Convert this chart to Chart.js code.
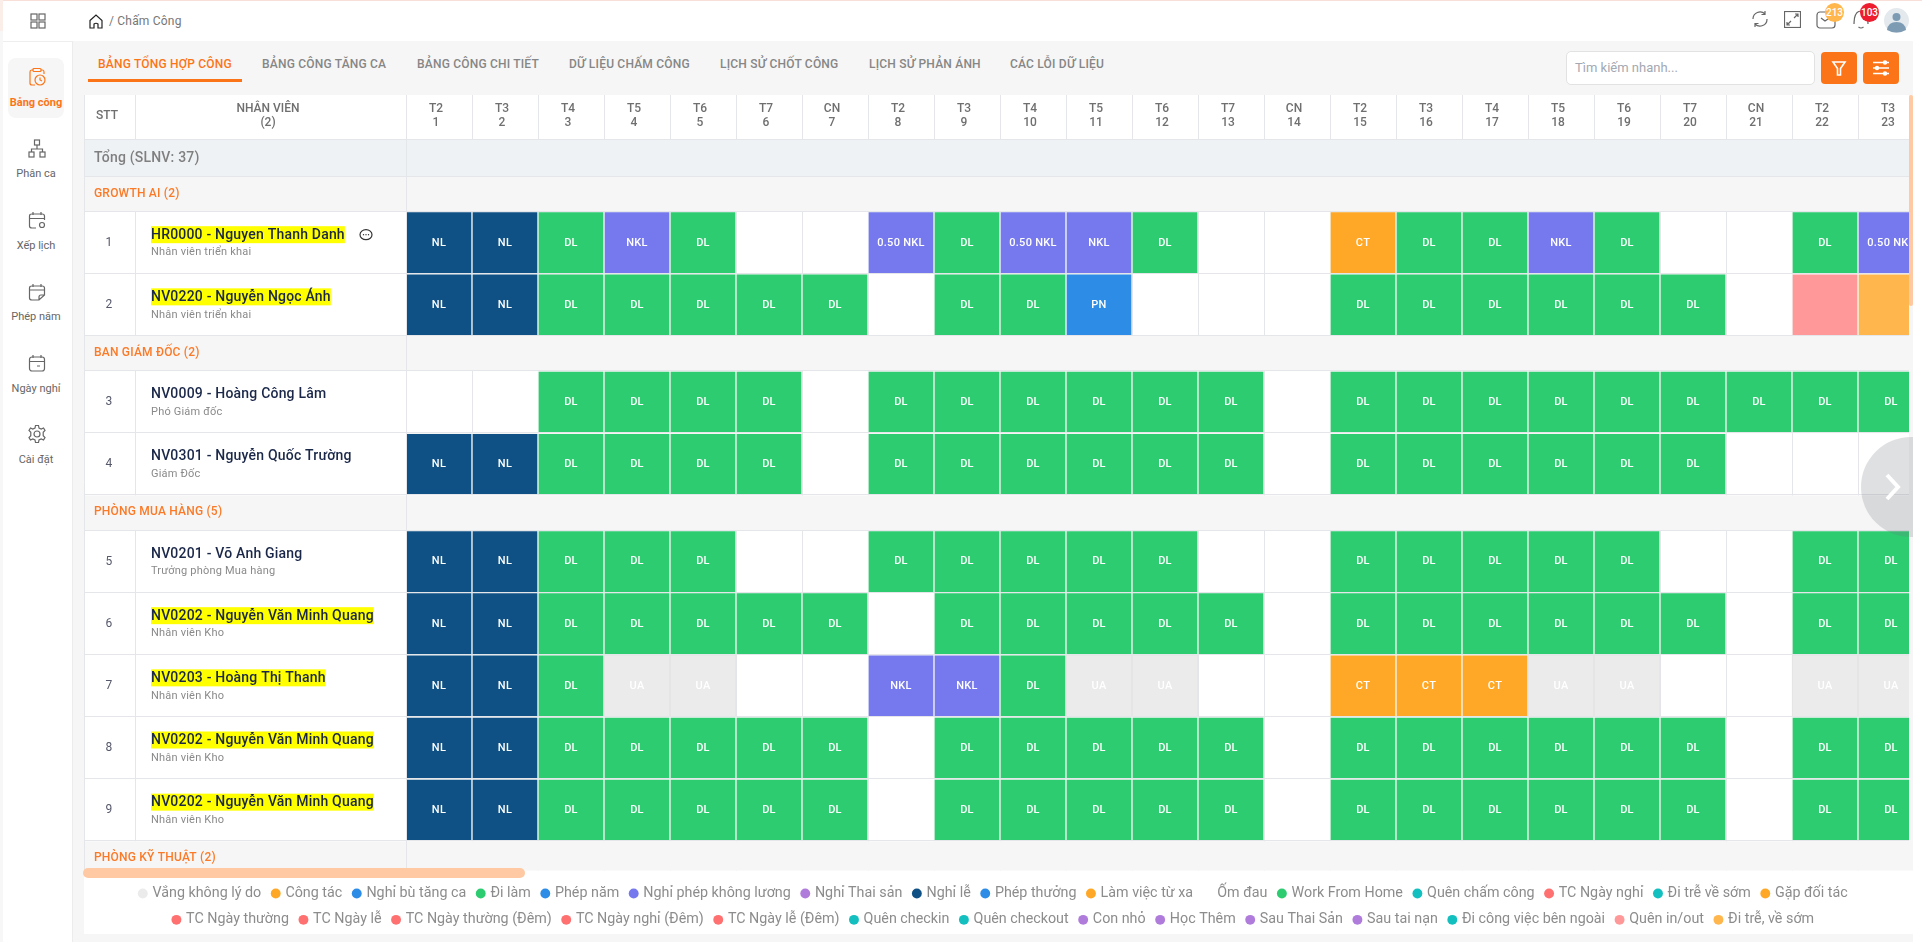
<!DOCTYPE html>
<html lang="vi">
<head>
<meta charset="utf-8">
<title>Chấm Công</title>
<script src="https://cdn.jsdelivr.net/npm/chart.js@4"></script>
<style>
  html, body { margin: 0; width: 1922px; height: 942px; overflow: hidden; background: #fff; font-family: Roboto, sans-serif; }
  .abs { position: absolute; white-space: nowrap; }
  #main { position: absolute; left: 72px; top: 41px; width: 1841px; height: 901px; background: #f6f6f6; border-left: 1px solid #ececec; box-sizing: border-box; }
  #chartWrap { position: absolute; left: 64px; top: 95px; width: 1849px; height: 847px; overflow: hidden; }
  .tab { font-size: 12px; font-weight: 500; color: #868686; top: 57px; letter-spacing: .2px; }
  .side { font-size: 11px; color: #666; width: 72px; left: 0; text-align: center; }
  .side svg { display: block; }
  .icon { fill: none; stroke: #666; stroke-width: 1.2; }
  .badge { border-radius: 50%; color: #fff; font-size: 10px; font-weight: 500; width: 19px; height: 19px; line-height: 19px; text-align: center; }
  .btn { background: #fb7518; border-radius: 4px; width: 36px; height: 32px; top: 52px; }
</style>
</head>
<body>
<div class="abs" style="left:0;top:0;width:1922px;height:1px;background:#f8e0d8"></div>
<div class="abs" style="left:0;top:0;width:3px;height:31px;background:#fbeee9"></div>
<div class="abs" style="left:0;top:31px;width:3px;height:911px;background:#f7f7f7"></div>
<div class="abs" style="left:3px;top:41px;width:69px;height:1px;background:#eee"></div>
<div id="main"></div>

<!-- sidebar -->
<svg class="abs icon" style="left:30px;top:13px" width="16" height="16" viewBox="0 0 16 16"><rect x="1" y="1" width="6" height="6"/><rect x="9" y="1" width="6" height="6"/><rect x="1" y="9" width="6" height="6"/><rect x="9" y="9" width="6" height="6"/></svg>
<div class="abs" style="left:8px;top:58px;width:56px;height:60px;border-radius:8px;background:#f6f6f6"></div>
<svg class="abs icon" style="left:27px;top:67px;stroke:#fb7518" width="20" height="20" viewBox="0 0 20 20"><path d="M6 3H4.500Q3 3 3 5V16Q3 18 5 18H8M14 3H15.500Q17 3 17 5V7"/><rect x="6" y="1.500" width="8" height="3" rx="1"/><circle cx="13" cy="13" r="5"/><path d="M13 10.500V13L15 14"/></svg>
<div class="abs side" style="top:96px;color:#fb7518;font-weight:700">Bảng công</div>
<svg class="abs icon" style="left:27px;top:139px" width="20" height="20" viewBox="0 0 20 20"><rect x="7.500" y="1" width="5" height="5"/><rect x="2" y="13" width="5" height="5"/><rect x="13" y="13" width="5" height="5"/><path d="M10 6V10M4.500 13V10H15.500V13"/></svg>
<div class="abs side" style="top:167px">Phân ca</div>
<svg class="abs icon" style="left:27px;top:210px" width="20" height="20" viewBox="0 0 20 20"><path d="M9 18H5Q2.500 18 2.500 16V6Q2.500 4 5 4H15Q17.500 4 17.500 6V10M2.500 8.500H17.500M6 2V5M14 2V5"/><circle cx="15" cy="15" r="2.500"/></svg>
<div class="abs side" style="top:239px">Xếp lịch</div>
<svg class="abs icon" style="left:27px;top:282px" width="20" height="20" viewBox="0 0 20 20"><path d="M12 18H5Q2.500 18 2.500 16V6Q2.500 4 5 4H15Q17.500 4 17.500 6V13ZM12 18V15Q12 13 14 13H17.500M2.500 8H17.500M6 2V5M14 2V5"/></svg>
<div class="abs side" style="top:310px">Phép năm</div>
<svg class="abs icon" style="left:27px;top:353px" width="20" height="20" viewBox="0 0 20 20"><rect x="2.500" y="4" width="15" height="14" rx="2.500"/><path d="M2.500 8.500H17.500M6 2V5M14 2V5M10 13H13"/></svg>
<div class="abs side" style="top:382px">Ngày nghỉ</div>
<svg class="abs icon" style="left:27px;top:424px" width="20" height="20" viewBox="0 0 20 20"><path d="M8.500 1.500H11.500L12 4L14.200 5L16.500 4L18 6.500L16.200 8.200V11.800L18 13.500L16.500 16L14.200 15L12 16L11.500 18.500H8.500L8 16L5.800 15L3.500 16L2 13.500L3.800 11.800V8.200L2 6.500L3.500 4L5.800 5L8 4Z"/><circle cx="10" cy="10" r="3"/></svg>
<div class="abs side" style="top:453px">Cài đặt</div>

<!-- top bar -->
<svg class="abs icon" style="left:89px;top:14px;stroke:#222" width="14" height="15" viewBox="0 0 14 15"><path d="M1 6.500L7 1L13 6.500V14H9V10Q7 8.500 5 10V14H1Z"/></svg>
<div class="abs" style="left:109px;top:14px;font-size:12px;color:#777;letter-spacing:.2px">/ Chấm Công</div>
<svg class="abs icon" style="left:1751px;top:10px" width="18" height="18" viewBox="0 0 18 18"><path d="M2 9A7 7 0 0 1 14 4M16 9A7 7 0 0 1 4 14M14 1V4.500H10.500M4 17V13.500H7.500"/></svg>
<svg class="abs icon" style="left:1784px;top:11px" width="17" height="17" viewBox="0 0 17 17"><rect x="0.500" y="0.500" width="16" height="16"/><path d="M10 7L14 3M11 3H14V6M7 10L3 14M3 11V14H6"/></svg>
<svg class="abs icon" style="left:1816px;top:10px" width="20" height="19" viewBox="0 0 20 19"><rect x="1" y="2" width="18" height="16" rx="3"/><path d="M5 8L9 11L12 9"/></svg>
<div class="abs badge" style="left:1825px;top:3px;background:#ffb74d">213</div>
<svg class="abs icon" style="left:1852px;top:9px" width="18" height="20" viewBox="0 0 18 20"><path d="M2 15Q2 13 2.500 9Q4 2 9 2Q14 2 15.500 9Q16 13 16 15M6.500 18Q9 20 11.500 18"/></svg>
<div class="abs badge" style="left:1860px;top:3px;background:#ed1c2e">103</div>
<svg class="abs" style="left:1884px;top:8px" width="25" height="25" viewBox="0 0 25 25"><circle cx="12.500" cy="12.500" r="12.500" fill="#e4e9ee"/><circle cx="12.500" cy="9" r="4" fill="#7d9cb4"/><path d="M3 22Q4 14 12.500 14Q21 14 22 22Q12.500 27 3 22Z" fill="#7d9cb4"/></svg>

<!-- tabs -->
<div class="abs tab" style="left:98px;color:#fb7518">BẢNG TỔNG HỢP CÔNG</div>
<div class="abs" style="left:88px;top:79px;width:154px;height:3px;background:#fb7518"></div>
<div class="abs tab" style="left:262px">BẢNG CÔNG TĂNG CA</div>
<div class="abs tab" style="left:417px">BẢNG CÔNG CHI TIẾT</div>
<div class="abs tab" style="left:569px">DỮ LIỆU CHẤM CÔNG</div>
<div class="abs tab" style="left:720px">LỊCH SỬ CHỐT CÔNG</div>
<div class="abs tab" style="left:869px">LỊCH SỬ PHẢN ÁNH</div>
<div class="abs tab" style="left:1010px">CÁC LỖI DỮ LIỆU</div>
<div class="abs" style="left:1566px;top:51px;width:249px;height:34px;box-sizing:border-box;background:#fff;border:1px solid #e2e2e2;border-radius:5px;padding-left:8px;line-height:32px;font-size:13px;color:#a3a8b2">Tìm kiếm nhanh...</div>
<div class="abs btn" style="left:1821px"><svg width="36" height="32" viewBox="0 0 36 32" fill="none" stroke="#fff" stroke-width="1.600"><path d="M12 10H24L19.500 16.500V23H16.500V16.500Z"/></svg></div>
<div class="abs btn" style="left:1863px"><svg width="36" height="32" viewBox="0 0 36 32" fill="none" stroke="#fff" stroke-width="1.600"><path d="M10 10.500H26M10 16H26M10 21.500H26"/><circle cx="22" cy="10.500" r="1.400" fill="#fff"/><circle cx="14" cy="16" r="1.400" fill="#fff"/><circle cx="22" cy="21.500" r="1.400" fill="#fff"/></svg></div>

<div id="chartWrap"><canvas id="myChart" width="1860" height="847"></canvas></div>

<!-- scrollbars and the floating arrow sit on top of the chart -->
<div class="abs" style="left:1909px;top:95px;width:4px;height:773px;background:#f6f6f6"></div>
<div class="abs" style="left:1909px;top:95px;width:4px;height:211px;background:#ffc9a3;border-radius:2px"></div>
<div class="abs" style="left:83px;top:868px;width:442px;height:10px;background:#ffc9a3;border-radius:5px"></div>
<div class="abs" style="left:1861px;top:437px;width:52px;height:100px;overflow:hidden">
  <div style="width:100px;height:100px;border-radius:50%;background:rgba(110,115,125,.22)"></div>
  <svg class="abs" style="left:22px;top:36px" width="20" height="28" viewBox="0 0 20 28" fill="none" stroke="#fff" stroke-width="4"><path d="M4 2L15 14L4 26"/></svg>
</div>

<script>
const dayNames = ["T2","T3","T4","T5","T6","T7","CN","T2","T3","T4","T5","T6","T7","CN","T2","T3","T4","T5","T6","T7","CN","T2","T3"];
const dayNumbers = ["1","2","3","4","5","6","7","8","9","10","11","12","13","14","15","16","17","18","19","20","21","22","23"];

const rowLabels = [
  "Tổng (SLNV: 37)", "GROWTH AI (2)",
  "HR0000 - Nguyen Thanh Danh", "NV0220 - Nguyễn Ngọc Ánh",
  "BAN GIÁM ĐỐC (2)",
  "NV0009 - Hoàng Công Lâm", "NV0301 - Nguyễn Quốc Trường",
  "PHÒNG MUA HÀNG (5)",
  "NV0201 - Võ Anh Giang", "NV0202 - Nguyễn Văn Minh Quang", "NV0203 - Hoàng Thị Thanh",
  "NV0202 - Nguyễn Văn Minh Quang", "NV0202 - Nguyễn Văn Minh Quang",
  "PHÒNG KỸ THUẬT (2)"
];
const rowTitles = ["", "", "Nhân viên triển khai", "Nhân viên triển khai", "", "Phó Giám đốc", "Giám Đốc", "",
  "Trưởng phòng Mua hàng", "Nhân viên Kho", "Nhân viên Kho", "Nhân viên Kho", "Nhân viên Kho", ""];
const rowNumbers = [0, 0, 1, 2, 0, 3, 4, 0, 5, 6, 7, 8, 9, 0];
const rowMarked = [2, 3, 9, 10, 11, 12];

const _ = "";
const cellsRow1 = ["NL","NL","DL","NKL","DL",_,_,"0.50 NKL","DL","0.50 NKL","NKL","DL",_,_,"CT","DL","DL","NKL","DL",_,_,"DL","0.50 NKL"];
const cellsRow2 = ["NL","NL","DL","DL","DL","DL","DL",_,"DL","DL","PN",_,_,_,"DL","DL","DL","DL","DL","DL",_,"QIO","DTS"];
const cellsRow3 = [_,_,"DL","DL","DL","DL",_,"DL","DL","DL","DL","DL","DL",_,"DL","DL","DL","DL","DL","DL","DL","DL","DL"];
const cellsRow4 = ["NL","NL","DL","DL","DL","DL",_,"DL","DL","DL","DL","DL","DL",_,"DL","DL","DL","DL","DL","DL",_,_,_];
const cellsRow5 = ["NL","NL","DL","DL","DL",_,_,"DL","DL","DL","DL","DL",_,_,"DL","DL","DL","DL","DL",_,_,"DL","DL"];
const cellsRow6 = ["NL","NL","DL","DL","DL","DL","DL",_,"DL","DL","DL","DL","DL",_,"DL","DL","DL","DL","DL","DL",_,"DL","DL"];
const cellsRow7 = ["NL","NL","DL","UA","UA",_,_,"NKL","NKL","DL","UA","UA",_,_,"CT","CT","CT","UA","UA",_,_,"UA","UA"];
const cellsRow8 = ["NL","NL","DL","DL","DL","DL","DL",_,"DL","DL","DL","DL","DL",_,"DL","DL","DL","DL","DL","DL",_,"DL","DL"];
const cellsRow9 = ["NL","NL","DL","DL","DL","DL","DL",_,"DL","DL","DL","DL","DL",_,"DL","DL","DL","DL","DL","DL",_,"DL","DL"];
const rowCells = [[], [], cellsRow1, cellsRow2, [], cellsRow3, cellsRow4, [], cellsRow5, cellsRow6, cellsRow7, cellsRow8, cellsRow9, []];

const statusNames = ["Vắng không lý do","Công tác","Nghỉ bù tăng ca","Đi làm","Phép năm","Nghỉ phép không lương","Nghỉ Thai sản","Nghỉ lễ","Phép thưởng","Làm việc từ xa","Ốm đau","Work From Home","Quên chấm công","TC Ngày nghỉ","Đi trễ về sớm","Gặp đối tác",
  "TC Ngày thường","TC Ngày lễ","TC Ngày thường (Đêm)","TC Ngày nghỉ (Đêm)","TC Ngày lễ (Đêm)","Quên checkin","Quên checkout","Con nhỏ","Học Thêm","Sau Thai Sản","Sau tai nạn","Đi công việc bên ngoài","Quên in/out","Đi trễ, về sớm"];
const statusCodes = ["UA","CT","NB","DL","PN","NKL","TS","NL","PT","LX","OD","WFH","QC","TCN","TS2","GD",
  "TCT","TCL","TCTD","TCND","TCLD","QI","QO","CN","HT","STS","STN","CV","QIO","DTS"];
const statusColors = ["#ebebeb","#ffa726","#2d8ce6","#2ecc71","#2d8ce6","#7678ed","#b07cdc","#0f5184","#2d8ce6","#ffa726","#ffffff","#2ecc71","#14bfbf","#ff7070","#14bfbf","#ffa726",
  "#ff7070","#ff7070","#ff7070","#ff7070","#ff7070","#14bfbf","#14bfbf","#b07cdc","#b07cdc","#b07cdc","#b07cdc","#14bfbf","#ff9999","#ffb74d"];
const codesWithoutText = ["QIO", "DTS"];

// table geometry, canvas pixels (the canvas starts at 64,95 on the page)
const TABLE_LEFT = 20;
const STT_RIGHT = 71;
const NAME_X = 87;
const BUBBLE_X = 302;
const HEADER_H = 45;
const LEGEND_BOTTOM = 839;
const LEGEND_WRAP = 1830;
const LINE = "#e4e6e9";

function rowHeight(i) {
  if (i === 0) return 36.5;
  if (i === rowLabels.length - 1) return 29;
  return rowNumbers[i] ? 62 : 35;
}
const rowTops = [0];
rowLabels.forEach((l, i) => rowTops.push(rowTops[i] + rowHeight(i)));

const datasets = statusNames.map((name, s) => {
  const data = [];
  rowCells.forEach((cells, r) => {
    cells.forEach((cell, d) => {
      if (cell && cell.split(" ").pop() === statusCodes[s]) {
        data.push({ x: dayNumbers[d], y: [rowTops[r], rowTops[r + 1]], text: codesWithoutText.includes(cell) ? "" : cell });
      }
    });
  });
  return {
    label: name,
    data: data,
    backgroundColor: statusColors[s],
    borderColor: statusCodes[s] === "UA" ? "#e3e3e3" : "#f4f6f5",
    borderWidth: 1,
    borderSkipped: false,
    grouped: false,
    barPercentage: 1,
    categoryPercentage: 1,
  };
});

const tablePlugin = {
  id: "tablePlugin",
  beforeLayout(chart) {
    // the legend breaks its rows a bit before the full canvas width
    if (chart.legend.fit.wrapped) return;
    const fit = chart.legend.fit;
    chart.legend.fit = function () {
      this.maxWidth = LEGEND_WRAP;
      fit.call(this);
    };
    chart.legend.fit.wrapped = true;
  },
  beforeDraw(chart) {
    const { ctx, chartArea: area, width } = chart;
    ctx.save();
    ctx.fillStyle = "#ffffff";
    ctx.fillRect(TABLE_LEFT, 0, width, area.bottom);
    ctx.fillRect(TABLE_LEFT, area.bottom, width, LEGEND_BOTTOM - area.bottom);
    ctx.restore();
  },
  beforeDatasetsDraw(chart) {
    const { ctx, scales: { y }, width } = chart;
    ctx.save();
    rowLabels.forEach((label, i) => {
      const top = y.getPixelForValue(rowTops[i]);
      const bottom = y.getPixelForValue(rowTops[i + 1]);
      if (!rowNumbers[i]) {
        ctx.fillStyle = i === 0 ? "#eff2f5" : "#f6f6f6";
        ctx.fillRect(TABLE_LEFT, top, width, bottom - top);
      }
    });
    ctx.restore();
  },
  afterDatasetsDraw(chart) {
    const { ctx, chartArea: area, scales: { x, y }, width } = chart;
    ctx.save();
    ctx.strokeStyle = LINE;
    ctx.lineWidth = 1;

    // header dividers and row lines
    const band = x.getPixelForValue(1) - x.getPixelForValue(0);
    ctx.beginPath();
    dayNumbers.forEach((d, i) => {
      const edge = Math.round(x.getPixelForValue(i) - band / 2) + 0.5;
      ctx.moveTo(edge, 0);
      ctx.lineTo(edge, area.top);
    });
    ctx.moveTo(area.left + 0.5, area.top);
    ctx.lineTo(area.left + 0.5, area.bottom);
    ctx.moveTo(STT_RIGHT + 0.5, 0);
    ctx.lineTo(STT_RIGHT + 0.5, area.top);
    ctx.moveTo(TABLE_LEFT + 0.5, 0);
    ctx.lineTo(TABLE_LEFT + 0.5, area.bottom);
    rowLabels.forEach((label, i) => {
      const top = Math.round(y.getPixelForValue(rowTops[i])) - 0.5;
      ctx.moveTo(TABLE_LEFT, top);
      ctx.lineTo(width, top);
      if (rowNumbers[i]) {
        const bottom = y.getPixelForValue(rowTops[i + 1]);
        ctx.moveTo(STT_RIGHT + 0.5, top);
        ctx.lineTo(STT_RIGHT + 0.5, bottom);
      }
    });
    ctx.stroke();

    // header titles
    ctx.textAlign = "center";
    ctx.textBaseline = "middle";
    ctx.fillStyle = "#6f6f6f";
    ctx.font = "500 12px Roboto";
    ctx.fillText("STT", TABLE_LEFT + 23, 21);
    ctx.fillText("NHÂN VIÊN", NAME_X + 117, 14);
    ctx.fillText("(2)", NAME_X + 117, 28);

    // row texts
    ctx.letterSpacing = "0.2px";
    rowLabels.forEach((label, i) => {
      const top = y.getPixelForValue(rowTops[i]);
      ctx.textAlign = "left";
      if (i === 0) {
        ctx.fillStyle = "#7f7f7f";
        ctx.font = "500 14px Roboto";
        ctx.fillText(label, TABLE_LEFT + 10, top + 18);
      } else if (!rowNumbers[i]) {
        ctx.fillStyle = "#fb7a28";
        ctx.font = "500 12px Roboto";
        ctx.fillText(label, TABLE_LEFT + 10, top + 17);
      } else {
        ctx.font = "500 14px Roboto";
        if (rowMarked.includes(i)) {
          ctx.fillStyle = "#ffff00";
          ctx.fillRect(NAME_X, top + 14.5, ctx.measureText(label).width, 17);
        }
        ctx.fillStyle = "#1a2748";
        ctx.fillText(label, NAME_X, top + 23.5);
        ctx.fillStyle = "#8a8a8a";
        ctx.font = "11px Roboto";
        ctx.fillText(rowTitles[i], NAME_X, top + 41);
        ctx.fillStyle = "#55586a";
        ctx.font = "12px Roboto";
        ctx.textAlign = "center";
        ctx.fillText(rowNumbers[i], TABLE_LEFT + 25, top + 31);
      }
    });

    // cell texts
    ctx.letterSpacing = "0.3px";
    ctx.textAlign = "center";
    ctx.font = "500 11px Roboto";
    ctx.fillStyle = "#ffffff";
    chart.data.datasets.forEach((ds, s) => {
      chart.getDatasetMeta(s).data.forEach((bar, n) => {
        const c = bar.getCenterPoint();
        ctx.fillText(ds.data[n].text, c.x, c.y);
      });
    });
    ctx.letterSpacing = "0px";

    // comment bubble next to the first name
    const cy = y.getPixelForValue(rowTops[2]) + 23;
    ctx.strokeStyle = "#333";
    ctx.lineWidth = 1.2;
    ctx.beginPath();
    ctx.ellipse(BUBBLE_X, cy, 6, 5, 0, 0, Math.PI * 2);
    ctx.stroke();
    ctx.fillStyle = "#333";
    [-2.5, 0, 2.5].forEach((dx) => ctx.fillRect(BUBBLE_X + dx - 0.6, cy - 0.6, 1.2, 1.2));
    ctx.restore();
  },
};

const ctx = document.getElementById("myChart");
Chart.defaults.font.family = "Roboto";
new Chart(ctx, {
  type: "bar",
  data: { labels: dayNumbers, datasets: datasets },
  plugins: [tablePlugin],
  options: {
    responsive: false,
    animation: false,
    layout: { padding: { bottom: 5 } },
    plugins: {
      tooltip: { enabled: false },
      legend: {
        position: "bottom",
        title: { display: true, text: "", font: { size: 1, lineHeight: 1 }, padding: { top: 3, bottom: 0 } },
        labels: {
          usePointStyle: true,
          pointStyle: "circle",
          boxWidth: 5,
          boxHeight: 7,
          padding: 12,
          color: "#8c8c8c",
          font: { size: 14.3, lineHeight: 1.12 },
          generateLabels(chart) {
            return Chart.defaults.plugins.legend.labels.generateLabels(chart).map((item) => ({ ...item, lineWidth: 0 }));
          },
        },
      },
    },
    scales: {
      x: {
        position: "top",
        afterFit(scale) { scale.height = HEADER_H; },
        grid: { offset: true, color: LINE, drawTicks: false },
        border: { display: false },
        ticks: {
          autoSkip: false,
          maxRotation: 0,
          padding: 10,
          labelOffset: -3,
          color: "#6f6f6f",
          font: { size: 12, weight: "500", lineHeight: 1.17 },
          callback(value, i) { return [dayNames[i], dayNumbers[i]]; },
        },
      },
      y: {
        reverse: true,
        min: 0,
        max: rowTops[rowTops.length - 1],
        afterFit(scale) { scale.width = 342; },
        grid: { display: false },
        border: { display: false },
        ticks: { display: false },
      },
    },
  },
});
</script>
</body>
</html>
